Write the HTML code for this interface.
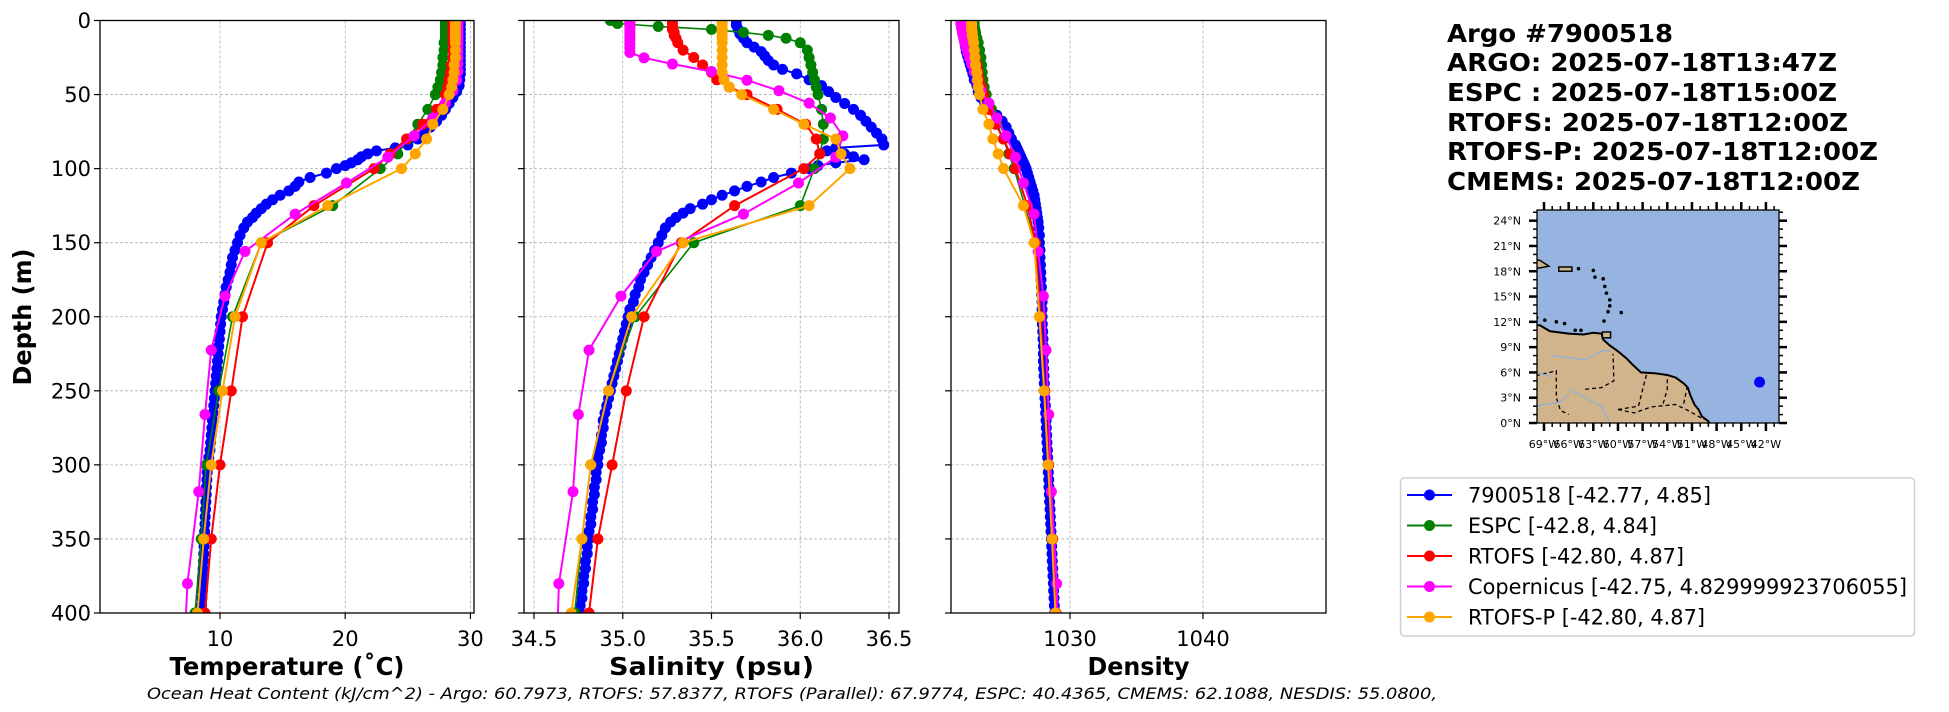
<!DOCTYPE html>
<html><head><meta charset="utf-8"><title>Argo profile comparison</title>
<style>
html,body{margin:0;padding:0;background:#fff;}
svg{display:block;font-family:"DejaVu Sans","Liberation Sans",sans-serif;}
</style></head>
<body>
<svg id="fig" width="1949" height="712" viewBox="0 0 1949 712" xmlns="http://www.w3.org/2000/svg">
<defs>
<clipPath id="cT"><rect x="100" y="20.5" width="374" height="592.5"/></clipPath>
<clipPath id="cS"><rect x="524" y="20.5" width="375" height="592.5"/></clipPath>
<clipPath id="cD"><rect x="951" y="20.5" width="375" height="592.5"/></clipPath>
<clipPath id="cM"><rect x="1537" y="210" width="242" height="213"/></clipPath>
</defs>
<g id="grids"></g>
<g id="series"></g>
<g id="axes"></g>
<g id="mapg"></g>
<g id="titleg">
<text x="1447" y="42" font-size="25" font-weight="bold" textLength="226" lengthAdjust="spacingAndGlyphs">Argo #7900518</text>
<text x="1447" y="71" font-size="25" font-weight="bold" textLength="390" lengthAdjust="spacingAndGlyphs">ARGO: 2025-07-18T13:47Z</text>
<text x="1447" y="101" font-size="25" font-weight="bold" textLength="390" lengthAdjust="spacingAndGlyphs">ESPC : 2025-07-18T15:00Z</text>
<text x="1447" y="131" font-size="25" font-weight="bold" textLength="401" lengthAdjust="spacingAndGlyphs">RTOFS: 2025-07-18T12:00Z</text>
<text x="1447" y="160" font-size="25" font-weight="bold" textLength="431" lengthAdjust="spacingAndGlyphs">RTOFS-P: 2025-07-18T12:00Z</text>
<text x="1447" y="190" font-size="25" font-weight="bold" textLength="413" lengthAdjust="spacingAndGlyphs">CMEMS: 2025-07-18T12:00Z</text>
</g>
<g id="legend"></g>
<text x="147" y="699" font-size="16" font-style="italic" textLength="1290" lengthAdjust="spacingAndGlyphs">Ocean Heat Content (kJ/cm^2) - Argo: 60.7973,  RTOFS: 57.8377,  RTOFS (Parallel): 67.9774,  ESPC: 40.4365,  CMEMS: 62.1088,  NESDIS: 55.0800,</text>
</svg>
<script>
// ---------- data ----------
const argoDepth=[0,3,6,9,12,15,18,21,24,27,30,33,36,40,44,48,52,56,60,64,68,72,76,80,84,86,88,90,92,94,96,98,100,103,106,109,112,115,118,121,124,127,130,133,136,140,145,150,155,160,165,170,175,180,185,190,195,200,205,210,215,220,225,230,235,240,245,250,255,260,265,270,275,280,285,290,295,300,305,310,315,320,325,330,335,340,345,350,355,360,365,370,375,380,385,390,395,400];
const argoTemp=[29.2,29.2,29.2,29.2,29.2,29.2,29.2,29.2,29.2,29.2,29.2,29.2,29.2,29.15,29.1,28.9,28.6,28.3,28.0,27.7,27.3,26.8,26.3,25.8,25.0,24.0,22.5,21.8,21.3,21.0,20.5,20.0,19.3,18.5,17.2,16.3,16.0,15.5,14.8,14.2,13.7,13.3,12.9,12.6,12.2,11.9,11.6,11.4,11.2,11.0,
10.9,10.8,10.65,10.5,10.4,10.3,10.2,10.1,10.05,10.0,9.95,9.9,9.85,9.8,9.75,9.7,9.65,9.6,9.55,9.5,9.45,9.4,9.35,9.3,9.25,9.2,9.1,9.0,8.98,8.95,8.92,8.9,8.87,8.85,8.82,8.8,8.77,8.75,8.72,8.7,8.68,8.65,8.62,8.6,8.58,8.55,8.52,8.5];
const argoSal=[35.64,35.64,35.65,35.66,35.68,35.7,35.74,35.78,35.8,35.82,35.85,35.9,35.98,36.05,36.12,36.16,36.2,36.25,36.3,36.34,36.37,36.4,36.43,36.46,36.47,36.2,36.15,36.25,36.3,36.36,36.2,36.1,36.05,35.95,35.85,35.78,35.7,35.63,35.56,35.5,35.45,35.38,35.34,35.3,35.27,35.24,35.22,35.2,35.18,35.16,
35.14,35.12,35.1,35.09,35.07,35.06,35.04,35.03,35.02,35.01,35.0,34.99,34.98,34.97,34.96,34.95,34.94,34.93,34.92,34.91,34.9,34.89,34.89,34.88,34.88,34.87,34.86,34.86,34.85,34.85,34.84,34.84,34.83,34.83,34.82,34.82,34.81,34.81,34.8,34.8,34.79,34.79,34.78,34.78,34.77,34.77,34.76,34.76];
const argoDens=[1022.0,1022.0,1022.0,1022.05,1022.1,1022.1,1022.15,1022.2,1022.3,1022.4,1022.5,1022.6,1022.7,1022.8,1023.0,1023.1,1023.3,1023.6,1024.0,1024.5,1024.9,1025.2,1025.4,1025.6,1025.9,1026.0,1026.1,1026.2,1026.3,1026.4,1026.5,1026.6,1026.7,1026.8,1026.9,1027.0,1027.1,1027.2,1027.3,1027.35,1027.4,1027.45,1027.5,1027.55,1027.6,1027.65,1027.7,1027.7,1027.75,1027.75,
1027.78,1027.8,1027.82,1027.85,1027.87,1027.9,1027.9,1027.9,1027.92,1027.95,1027.97,1028.0,1028.0,1028.0,1028.02,1028.05,1028.07,1028.1,1028.12,1028.15,1028.17,1028.2,1028.22,1028.25,1028.27,1028.3,1028.32,1028.35,1028.37,1028.4,1028.42,1028.45,1028.47,1028.5,1028.52,1028.55,1028.57,1028.6,1028.62,1028.65,1028.67,1028.7,1028.72,1028.75,1028.77,1028.8,1028.82,1028.85];

const modelDepth=[0,2,4,6,8,10,12,15,20,25,30,35,40,45,50,60,70,80,90,100,125,150,200,250,300,350,400];
const espcTemp=[28.0,28.0,28.0,28.0,28.0,28.0,28.0,27.9,27.9,27.8,27.8,27.7,27.6,27.4,27.2,26.6,25.8,25.0,24.2,22.8,19.0,13.3,11.0,9.9,8.9,8.5,8.0];
const espcSal=[34.93,34.97,35.2,35.5,35.68,35.82,35.92,36.0,36.04,36.05,36.06,36.07,36.08,36.09,36.1,36.12,36.13,36.13,36.11,36.08,36.0,35.4,35.07,34.92,34.82,34.77,34.73];
const espcDens=[1022.8,1022.8,1022.8,1022.85,1022.9,1022.9,1023.0,1023.1,1023.2,1023.3,1023.35,1023.4,1023.45,1023.55,1023.7,1024.1,1024.5,1025.0,1025.4,1025.8,1026.6,1027.4,1027.75,1028.05,1028.35,1028.65,1028.95];
const rtofsTemp=[28.6,28.6,28.6,28.6,28.6,28.6,28.6,28.6,28.6,28.6,28.5,28.4,28.3,28.2,28.0,27.3,26.2,24.9,23.6,22.3,17.5,13.8,11.8,10.9,10.0,9.3,8.8];
const rtofsSal=[35.28,35.28,35.28,35.28,35.29,35.29,35.3,35.31,35.34,35.4,35.45,35.5,35.53,35.6,35.7,35.87,36.03,36.09,36.11,36.02,35.63,35.33,35.12,35.02,34.94,34.86,34.81];
const rtofsDens=[1022.5,1022.5,1022.5,1022.55,1022.6,1022.6,1022.65,1022.7,1022.8,1022.9,1023.0,1023.1,1023.2,1023.35,1023.5,1023.9,1024.4,1025.0,1025.5,1025.9,1026.8,1027.4,1027.8,1028.1,1028.4,1028.7,1028.95];
const rtofspTemp=[28.8,28.8,28.8,28.8,28.8,28.8,28.8,28.8,28.8,28.8,28.7,28.7,28.6,28.5,28.3,27.8,27.0,26.5,25.6,24.5,18.6,13.3,11.2,10.2,9.3,8.7,8.2];
const rtofspSal=[35.56,35.56,35.56,35.56,35.56,35.56,35.56,35.56,35.56,35.56,35.56,35.56,35.57,35.6,35.67,35.85,36.02,36.2,36.23,36.28,36.05,35.34,35.05,34.92,34.82,34.77,34.71];
const rtofspDens=[1022.6,1022.6,1022.6,1022.6,1022.65,1022.65,1022.7,1022.75,1022.8,1022.85,1022.9,1023.0,1023.05,1023.1,1023.2,1023.45,1023.9,1024.2,1024.6,1025.0,1026.5,1027.3,1027.7,1028.05,1028.35,1028.65,1028.9];

const copDepth=[0.5,1.5,2.6,3.8,5.1,6.4,7.9,9.6,11.4,13.5,15.8,18.5,21.6,25.2,29.4,34.4,40.3,47.4,55.8,65.8,77.9,92.3,109.7,130.7,155.9,186.1,222.5,266.0,318.1,380.2,453.9];
const copTemp=[29.0,29.0,29.0,29.0,29.0,29.0,29.0,29.0,29.0,29.0,29.0,29.0,29.0,29.0,29.0,29.0,28.9,28.6,28.0,27.0,25.5,23.4,20.1,16.0,12.0,10.4,9.3,8.8,8.3,7.4,7.0];
const copSal=[35.04,35.04,35.04,35.04,35.04,35.04,35.04,35.04,35.04,35.04,35.04,35.04,35.04,35.12,35.28,35.5,35.7,35.88,36.05,36.17,36.24,36.2,35.99,35.68,35.19,34.99,34.81,34.75,34.72,34.64,34.62];
const copDens=[1021.8,1021.8,1021.8,1021.85,1021.85,1021.9,1021.9,1021.95,1022.0,1022.05,1022.1,1022.2,1022.3,1022.45,1022.6,1022.8,1023.0,1023.3,1023.9,1024.5,1025.2,1025.9,1026.5,1027.3,1027.6,1028.0,1028.2,1028.4,1028.6,1029.0,1029.2];

const depthTicks=[0,50,100,150,200,250,300,350,400];
const tempTicks=[10,20,30];
const salTicks=[34.5,35.0,35.5,36.0,36.5];
const densTicks=[1030,1040];
const legendLabels=["7900518 [-42.77, 4.85]","ESPC [-42.8, 4.84]","RTOFS [-42.80, 4.87]","Copernicus [-42.75, 4.829999923706055]","RTOFS-P [-42.80, 4.87]"];
const argoLon=-42.77, argoLat=4.85;
const latTicks=[0,3,6,9,12,15,18,21,24];
const lonTicks=[-69,-66,-63,-60,-57,-54,-51,-48,-45,-42];

// ---------- scales ----------
const NS="http://www.w3.org/2000/svg";
const yS=d=>20.5+d*592.5/400;
const xT=v=>220+(v-10)*12.52;
const xSal=v=>534+(v-34.5)*177.5;
const xDen=v=>1070+(v-1030)*13.3;
function el(tag,attrs,parent){const e=document.createElementNS(NS,tag);for(const k in attrs)e.setAttribute(k,attrs[k]);parent.appendChild(e);return e;}

const grids=document.getElementById('grids'), series=document.getElementById('series'), axes=document.getElementById('axes');
const panels=[
 {key:'temperature',x:xT,left:100,right:474,ticks:tempTicks,fmt:v=>String(v),label:'Temperature (\u02DAC)',labelW:235,clip:'cT'},
 {key:'salinity',x:xSal,left:524,right:899,ticks:salTicks,fmt:v=>v.toFixed(1),label:'Salinity (psu)',labelW:205,clip:'cS'},
 {key:'density',x:xDen,left:951,right:1326,ticks:densTicks,fmt:v=>String(v),label:'Density',labelW:102,clip:'cD'}
];
panels.forEach((p,pi)=>{
  const g=el('g',{},grids);
  
  
  depthTicks.forEach(d=>{el('line',{x1:p.left,x2:p.right,y1:yS(d),y2:yS(d),stroke:'#b0b0b0','stroke-width':0.8,'stroke-dasharray':'3,2'},g);});
  p.ticks.forEach(t=>{el('line',{x1:p.x(t),x2:p.x(t),y1:20.5,y2:613,stroke:'#b0b0b0','stroke-width':0.8,'stroke-dasharray':'3,2'},g);});
  const a=el('g',{},axes);
  
  
  el('rect',{x:p.left,y:20.5,width:p.right-p.left,height:592.5,fill:'none',stroke:'#000','stroke-width':1.3},a);
  depthTicks.forEach(d=>{
    el('line',{x1:p.left-6,x2:p.left,y1:yS(d),y2:yS(d),stroke:'#000','stroke-width':1.2},a);
    if(pi===0){const t=el('text',{x:p.left-9,y:yS(d)+7.5,'font-size':21,'text-anchor':'end'},a);t.textContent=d;}
  });
  p.ticks.forEach(v=>{
    el('line',{x1:p.x(v),x2:p.x(v),y1:613,y2:619,stroke:'#000','stroke-width':1.2},a);
    const t=el('text',{x:p.x(v),y:646,'font-size':21,'text-anchor':'middle'},a);t.textContent=p.fmt(v);
  });
  const lb=el('text',{x:(p.left+p.right)/2,y:675,'font-size':25,'font-weight':'bold','text-anchor':'middle',textLength:p.labelW,lengthAdjust:'spacingAndGlyphs'},a);
  
  
  lb.textContent=p.label;
});
const yl=el('text',{x:0,y:0,'font-size':25,'font-weight':'bold','text-anchor':'middle',transform:'translate(31,317) rotate(-90)',textLength:137,lengthAdjust:'spacingAndGlyphs'},axes);


yl.textContent='Depth (m)';

const seriesDefs=[
 {name:'argo',color:'#0000ff',depth:argoDepth,vals:[argoTemp,argoSal,argoDens],lw:2},
 {name:'espc',color:'#008000',depth:modelDepth,vals:[espcTemp,espcSal,espcDens],lw:1.6},
 {name:'rtofs',color:'#ff0000',depth:modelDepth,vals:[rtofsTemp,rtofsSal,rtofsDens],lw:2},
 {name:'copernicus',color:'#ff00ff',depth:copDepth,vals:[copTemp,copSal,copDens],lw:2},
 {name:'rtofs-p',color:'#ffa500',depth:modelDepth,vals:[rtofspTemp,rtofspSal,rtofspDens],lw:2}
];
seriesDefs.forEach(s=>{
  panels.forEach((p,pi)=>{
    const g=el('g',{'clip-path':'url(#'+p.clip+')'},series);
    
    
    const v=s.vals[pi];
    const pts=s.depth.map((d,i)=>p.x(v[i]).toFixed(1)+','+yS(d).toFixed(1)).join(' ');
    el('polyline',{points:pts,fill:'none',stroke:s.color,'stroke-width':s.lw},g);
    s.depth.forEach((d,i)=>{
      const c=el('circle',{cx:p.x(v[i]),cy:yS(d),r:5.5,fill:s.color},g);
      
      
    });
  });
});

// ---------- legend ----------
const lg=document.getElementById('legend');
el('rect',{x:1400.5,y:478,width:514,height:158,rx:4,fill:'#fff',stroke:'#d0d0d0','stroke-width':1.5},lg);
const legW=[243,189,216,439,237];
seriesDefs.forEach((s,i)=>{
  const y=495+i*30.5;
  const g=el('g',{},lg);
  
  
  el('line',{x1:1407,x2:1452,y1:y,y2:y,stroke:s.color,'stroke-width':2},g);
  el('circle',{cx:1429.5,cy:y,r:5.5,fill:s.color},g);
  const t=el('text',{x:1468,y:y+7.5,'font-size':21,textLength:legW[i],lengthAdjust:'spacingAndGlyphs'},g);
  t.textContent=legendLabels[i];
});

// ---------- map ----------
const mg=document.getElementById('mapg');
const mx=lon=>1537+(lon+69.85)*8.22, my=lat=>423-lat*8.43;
el('rect',{x:1537,y:210,width:242,height:213,fill:'#96b4df'},mg);
const mc=el('g',{'clip-path':'url(#cM)'},mg);
const land=[[-71,11.6],[-69.5,11.6],[-68.3,10.9],[-66,10.6],[-64.2,10.5],[-63,10.7],[-62,10.6],[-61.8,9.9],[-61,9.2],[-60,8.5],[-59,7.7],[-58.3,7],[-57.2,6],[-55.5,5.9],[-54,5.7],[-53,5.4],[-52,4.7],[-51.5,4.2],[-51.2,3.3],[-50.7,2.2],[-50.2,1.6],[-49.8,0.8],[-49,0.2],[-48.5,-1],[-71,-1]];
el('polygon',{points:land.map(p=>mx(p[0])+','+my(p[1])).join(' '),fill:'#d2b48c',stroke:'#000','stroke-width':2},mc);
el('polygon',{points:[[-61.9,10.8],[-60.9,10.8],[-60.9,10.1],[-61.9,10.1]].map(p=>mx(p[0])+','+my(p[1])).join(' '),fill:'#d2b48c',stroke:'#000','stroke-width':1.5},mc);
el('polygon',{points:[[-71,19.5],[-69.5,19.3],[-68.4,18.6],[-69.5,18.4],[-71,18.3]].map(p=>mx(p[0])+','+my(p[1])).join(' '),fill:'#d2b48c',stroke:'#000','stroke-width':1.5},mc);
el('polygon',{points:[[-67.2,18.5],[-65.6,18.5],[-65.6,18],[-67.2,18]].map(p=>mx(p[0])+','+my(p[1])).join(' '),fill:'#d2b48c',stroke:'#000','stroke-width':1.5},mc);
[[-64.8,18.3],[-63,18.1],[-62.8,17.3],[-61.8,17.1],[-61.6,16.2],[-61.4,15.4],[-61,14.6],[-61,13.9],[-61.2,13.2],[-61.7,12.1],[-59.6,13.1],[-64.5,11],[-65.2,11],[-66.5,11.8],[-67.5,12],[-68.9,12.2],[-69.9,12.5]].forEach(p=>{el('circle',{cx:mx(p[0]),cy:my(p[1]),r:1.8,fill:'#000'},mc);});
[[[-70,5.6],[-67.5,6.2],[-67.5,3],[-67,1.5],[-66,1]],[[-64,4],[-62,4.2],[-60.5,5],[-60.6,8.2]],[[-60,1.6],[-57.5,2],[-57,4],[-56.5,5.8]],[[-54.5,2.3],[-54,4],[-54,5.6]],[[-52,2.3],[-51.6,4.2]],[[-60,1.6],[-58,1.2],[-56,1.9],[-53,2.2],[-51.5,1.5],[-49.5,0.4]]].forEach(l=>{el('polyline',{points:l.map(p=>mx(p[0])+','+my(p[1])).join(' '),fill:'none',stroke:'#000','stroke-width':1.3,'stroke-dasharray':'4,3'},mc);});
[[[-70,2],[-67,2.5],[-66,3.5]],[[-68,8],[-64,7.5],[-62,8.5],[-60.8,8.6]],[[-70,6],[-68,5.5]],[[-66,4],[-64,3],[-62,2],[-61,0]]].forEach(l=>{el('polyline',{points:l.map(p=>mx(p[0])+','+my(p[1])).join(' '),fill:'none',stroke:'#8fb0d8','stroke-width':1.3},mc);});
const ap=el('circle',{cx:mx(argoLon),cy:my(argoLat),r:5.5,fill:'#0000ff'},mg);


el('rect',{x:1537,y:210,width:242,height:213,fill:'none',stroke:'#000','stroke-width':1.3},mg);
for(let lat=0;lat<=25;lat++){const y=my(lat);const maj=lat%3===0;el('line',{x1:1537-(maj?8:4),x2:1537,y1:y,y2:y,stroke:'#000','stroke-width':maj?2.5:1.5},mg);el('line',{x1:1779,x2:1779+(maj?8:4),y1:y,y2:y,stroke:'#000','stroke-width':maj?2.5:1.5},mg);}
for(let lon=-69;lon<=-41;lon++){const x=mx(lon);const maj=lon%3===0;el('line',{x1:x,x2:x,y1:423,y2:423+(maj?8:4),stroke:'#000','stroke-width':maj?2.5:1.5},mg);el('line',{x1:x,x2:x,y1:210-(maj?8:4),y2:210,stroke:'#000','stroke-width':maj?2.5:1.5},mg);}
latTicks.forEach(l=>{const t=el('text',{x:1521,y:my(l)+4,'font-size':11,'text-anchor':'end'},mg);t.textContent=l+'\u00B0N';});
lonTicks.forEach(l=>{const t=el('text',{x:mx(l),y:448,'font-size':11,'text-anchor':'middle'},mg);t.textContent=(-l)+'\u00B0W';});
</script>
</body></html>
